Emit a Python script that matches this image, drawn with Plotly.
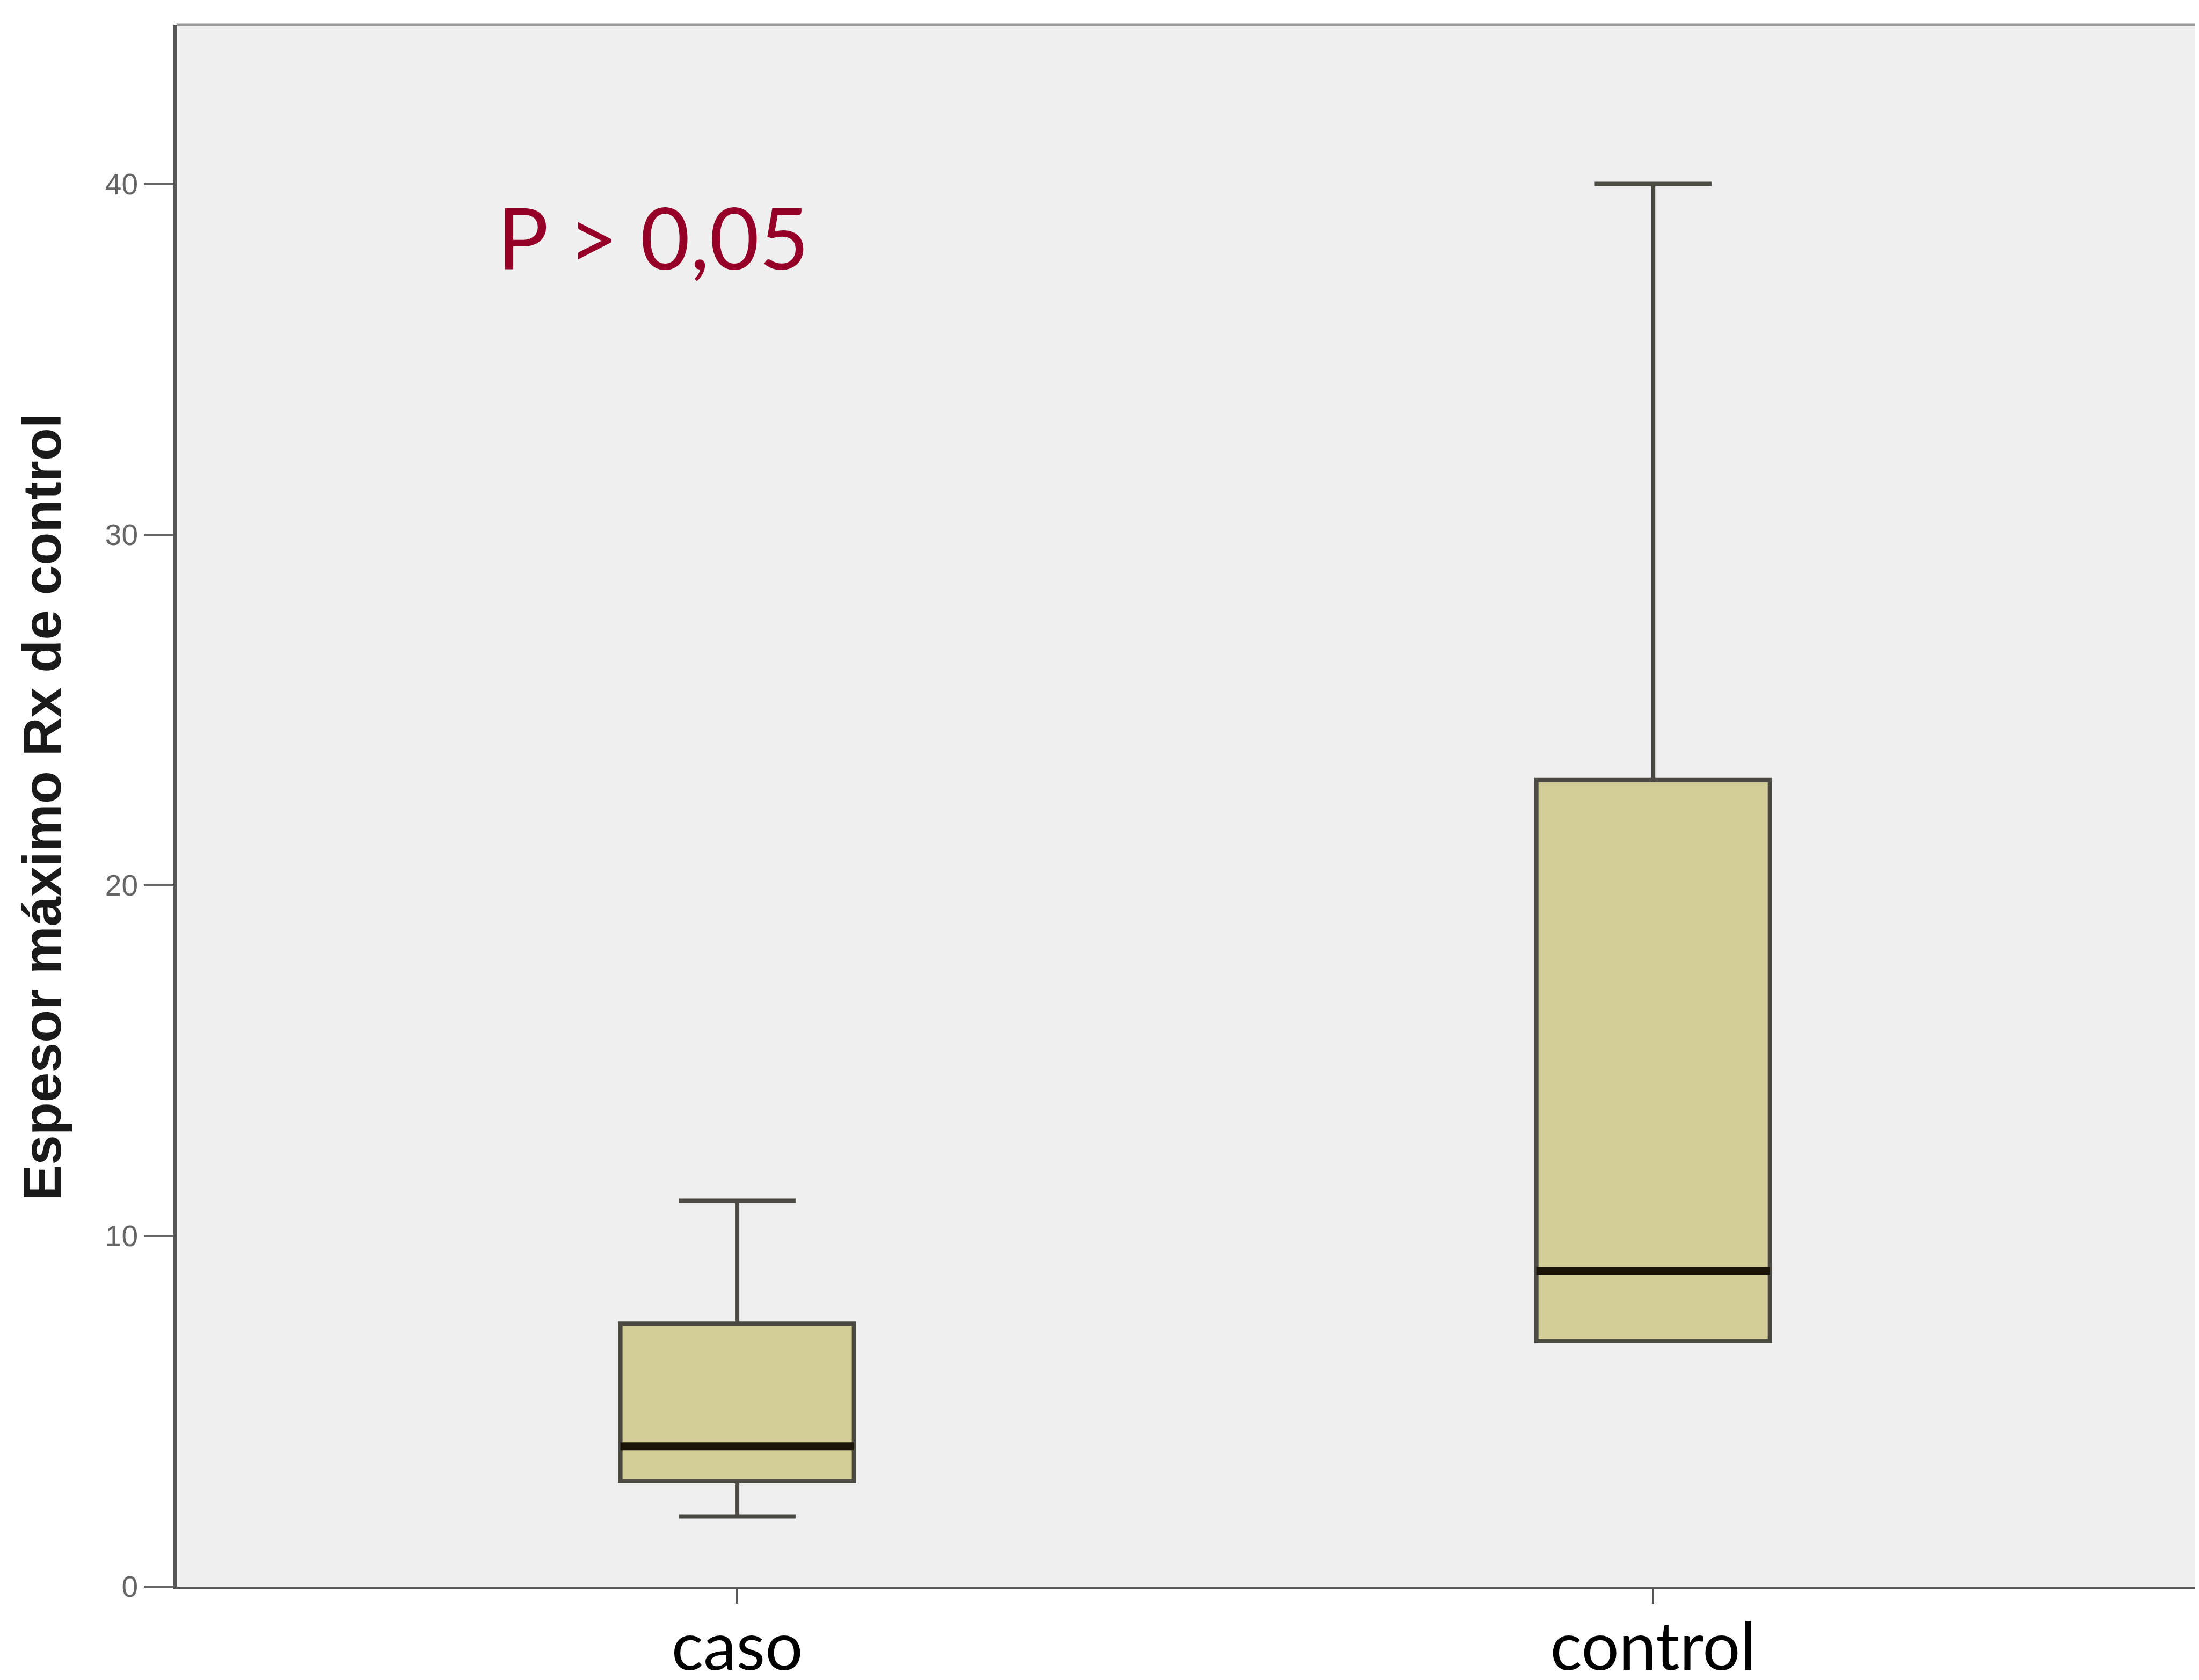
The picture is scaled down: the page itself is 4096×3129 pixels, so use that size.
import plotly.graph_objects as go

# ---- data ----
categories = ["caso", "control"]
lower_whisker = [2, 7]
q1 = [3, 7]
median = [4, 9]
q3 = [7.5, 23]
upper_whisker = [11, 40]
y_ticks = [0, 10, 20, 30, 40]
y_title = "Espesor máximo Rx de control"
p_text = "P > 0,05"

# ---- style ----
positions = list(range(len(categories)))
BOX_W = 0.255
FILL = "#D3CE98"
LINE = "#4a4942"
MEDIAN_COLOR = "#1a1408"

fig = go.Figure()
fig.add_trace(go.Box(
    x=positions,
    q1=q1, median=median, q3=q3,
    lowerfence=lower_whisker, upperfence=upper_whisker,
    width=BOX_W, whiskerwidth=0.5,
    fillcolor=FILL,
    line=dict(color=LINE, width=8),
    hoverinfo="skip", showlegend=False,
))

# thick median lines drawn over the boxes
for p, m in zip(positions, median):
    fig.add_trace(go.Scatter(
        x=[p - BOX_W / 2, p + BOX_W / 2], y=[m, m],
        mode="lines", line=dict(color=MEDIAN_COLOR, width=15),
        hoverinfo="skip", showlegend=False,
    ))

fig.update_layout(
    width=4096, height=3129,
    margin=dict(l=322, r=8, t=38, b=182, autoexpand=False),
    paper_bgcolor="white",
    plot_bgcolor="#EFEFEF",
    showlegend=False,
    xaxis=dict(
        range=[-0.6114, 1.596],
        tickmode="array", tickvals=positions, ticktext=categories,
        ticks="outside", ticklen=27, tickwidth=4, tickcolor="#555555",
        showline=True, linecolor="#555555", linewidth=5,
        showgrid=False, zeroline=False, automargin=False,
        tickfont=dict(family="Lato", size=124, color="#000000"),
        ticklabelstandoff=-26,
    ),
    yaxis=dict(
        range=[0, 44.54],
        tickmode="array", tickvals=y_ticks,
        ticks="outside", ticklen=55, tickwidth=4, tickcolor="#666666",
        showline=True, linecolor="#555555", linewidth=7,
        showgrid=False, zeroline=False, automargin=False,
        tickfont=dict(family="Liberation Sans", size=55, color="#666666"),
    ),
    shapes=[dict(type="line", xref="paper", yref="paper",
                 x0=0, x1=1, y0=1, y1=1,
                 line=dict(color="#999999", width=5))],
    annotations=[
        dict(text="<b>" + y_title + "</b>", xref="paper", yref="paper",
             x=-0.0668, y=0.4991, xanchor="center", yanchor="middle",
             textangle=-90, showarrow=False,
             font=dict(family="Liberation Sans", size=100, color="#1a1a1a")),
        dict(text=p_text, xref="paper", yref="paper",
             x=0.2354, y=0.8646, xanchor="center", yanchor="middle",
             showarrow=False,
             font=dict(family="Lato", size=160, color="#960028")),
    ],
)

fig.write_html("out.html")
